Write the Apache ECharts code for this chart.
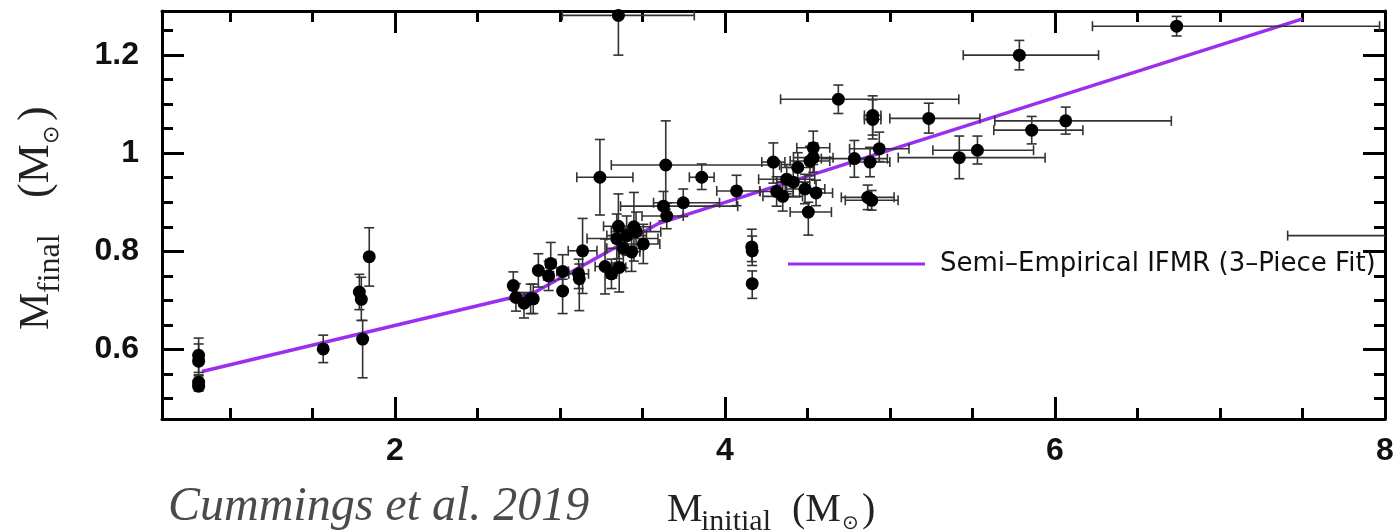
<!DOCTYPE html>
<html><head><meta charset="utf-8">
<script src="https://cdn.jsdelivr.net/npm/echarts@6/dist/echarts.min.js"></script>
<style>html,body{margin:0;padding:0;background:#fff}#c{width:1393px;height:531px}</style>
</head><body><div id="c"></div>
<script>
// Axis range and tick labels
const X_MIN = 0.588, X_MAX = 8, Y_MIN = 0.458, Y_MAX = 1.29;
const X_MAJOR = [2, 4, 6, 8];
const X_MINOR = [1, 1.5, 2.5, 3, 3.5, 4.5, 5, 5.5, 6.5, 7, 7.5];
const Y_MAJOR = [0.6, 0.8, 1, 1.2];
const Y_MINOR = [0.5, 0.55, 0.65, 0.7, 0.75, 0.85, 0.9, 0.95, 1.05, 1.1, 1.15, 1.25];

// White dwarf data: initial mass, final mass, and error bars
const M_INITIAL = [0.81,0.81,0.81,0.81,1.565,1.784,1.796,1.804,1.844,2.717,2.733,2.782,2.822,2.838,2.869,2.931,2.944,3.016,3.016,3.113,3.117,3.137,3.242,3.273,3.312,3.354,3.359,3.344,3.384,3.404,3.434,3.448,3.461,3.505,3.627,3.647,3.641,3.747,3.859,4.070,4.293,4.313,4.687,4.895,4.895,5.235,4.935,4.784,4.879,4.535,4.535,4.515,4.441,4.374,4.414,4.350,4.485,4.552,4.505,4.865,4.889,4.162,4.165,4.165,6.737,5.784,6.065,5.859,5.530,5.420,3.354,8.50];
const M_FINAL = [0.588,0.576,0.533,0.525,0.601,0.717,0.702,0.621,0.789,0.730,0.706,0.694,0.703,0.703,0.761,0.750,0.775,0.759,0.719,0.754,0.744,0.801,0.951,0.769,0.754,0.851,0.767,0.826,0.806,0.832,0.799,0.850,0.840,0.815,0.892,0.872,0.976,0.899,0.951,0.923,0.982,0.922,1.110,1.077,1.069,1.071,1.009,0.989,0.982,1.011,0.991,0.984,0.971,0.947,0.941,0.912,0.927,0.919,0.880,0.910,0.904,0.809,0.801,0.734,1.259,1.200,1.066,1.047,1.006,0.991,1.281,0.832];
const XERR_LO = [0.02,0.02,0.02,0.02,0,0,0,0,0,0,0,0.02,0.02,0.02,0,0.03,0.03,0.035,0,0.06,0,0.087,0.14,0.06,0.03,0.09,0.04,0.18,0.1,0.12,0.05,0.1,0.15,0.1,0.26,0.15,0.33,0.18,0.075,0.12,0.07,0.1,0.35,0.05,0.05,0.236,0.18,0.2,0.12,0.1,0.12,0.12,0.1,0.17,0.1,0.12,0.12,0.1,0.11,0.16,0.16,0,0,0,0.51,0.34,0.43,0.23,0.27,0.37,0.34,1.09];
const XERR_HI = [0.02,0.02,0.02,0.02,0,0,0,0,0,0,0,0.02,0.02,0.02,0,0.03,0.03,0.035,0,0.06,0,0.087,0.2,0.06,0.03,0.09,0.04,0.25,0.1,0.12,0.05,0.1,0.15,0.1,0.45,0.1,0.69,0.22,0.075,0.14,0.07,0.1,0.73,0.05,0.05,0.31,0.18,0.2,0.12,0.1,0.12,0.12,0.1,0.17,0.1,0.12,0.12,0.1,0.14,0.16,0.16,0,0,0,1.23,0.48,0.64,0.31,0.34,0.52,0.46,0.5];
const YERR_LO = [0.035,0.03,0.012,0.01,0.028,0.036,0.043,0.079,0.06,0.028,0.028,0.03,0.03,0.03,0.034,0.03,0.035,0.034,0.046,0.03,0.065,0.087,0.077,0.056,0.03,0.066,0.05,0.05,0.04,0.04,0.04,0.07,0.04,0.04,0.03,0.026,0.09,0.028,0.025,0.03,0.043,0.03,0.029,0.04,0.04,0.03,0.026,0.038,0.03,0.034,0.03,0.03,0.03,0.03,0.03,0.03,0.03,0.026,0.047,0.025,0.02,0.03,0.03,0.03,0.02,0.03,0.027,0.028,0.028,0.043,0.081,0];
const YERR_HI = [0.035,0.035,0.015,0.01,0.028,0.036,0.045,0.038,0.059,0.028,0.028,0.022,0.03,0.03,0.034,0.03,0.043,0.034,0.024,0.03,0.03,0.066,0.077,0.056,0.03,0.066,0.05,0.05,0.04,0.04,0.04,0.07,0.04,0.04,0.03,0.026,0.09,0.028,0.027,0.032,0.039,0.03,0.029,0.04,0.04,0.031,0.034,0.037,0.03,0.034,0.03,0.03,0.03,0.03,0.03,0.03,0.03,0.026,0.02,0.025,0.02,0.036,0.03,0.026,0.02,0.03,0.028,0.028,0.029,0.044,0.08,0];

// Semi-empirical IFMR, 3-piece fit (break points)
const FIT_NAME = 'Semi\u2013Empirical IFMR (3\u2013Piece Fit)';
const FIT_X = [0.83, 2.85, 3.60, 7.50];
const FIT_Y = [0.555, 0.717, 0.857, 1.274];

const rows = M_INITIAL.map((x, i) => [x, M_FINAL[i], XERR_LO[i], XERR_HI[i], YERR_LO[i], YERR_HI[i]]);
const fit = FIT_X.map((x, i) => [x, FIT_Y[i]]);

const ERR_COLOR = '#333';
const FIT_COLOR = '#9b2ff0';
const serif = '"Liberation Serif", "DejaVu Serif", serif';
const labelFont = { color: '#111', fontSize: 32, fontWeight: 'bold', fontFamily: '"Liberation Sans", Arial, sans-serif' };

function axisX(pos, vals, len, withLine, labels) {
  return {
    type: 'value', position: pos, min: X_MIN, max: X_MAX,
    axisLine: { show: withLine, onZero: false, lineStyle: { color: '#000', width: 3 } },
    axisTick: { show: true, inside: true, length: len, customValues: vals, lineStyle: { color: '#000', width: 3 } },
    axisLabel: labels ? Object.assign({ show: true, customValues: vals, margin: 16 }, labelFont) : { show: false },
    splitLine: { show: false }
  };
}
function axisY(pos, vals, len, withLine, labels) {
  return {
    type: 'value', position: pos, min: Y_MIN, max: Y_MAX,
    axisLine: { show: withLine, onZero: false, lineStyle: { color: '#000', width: 3 } },
    axisTick: { show: true, inside: true, length: len, customValues: vals, lineStyle: { color: '#000', width: 3 } },
    axisLabel: labels ? Object.assign({ show: true, customValues: vals, margin: 23,
      formatter: v => (Math.abs(v - 1) < 1e-9 ? '1' : v.toFixed(1)) }, labelFont) : { show: false },
    splitLine: { show: false }
  };
}

const chart = echarts.init(document.getElementById('c'), null, { renderer: 'canvas' });
chart.setOption({
  animation: false,
  backgroundColor: '#fff',
  grid: { left: 162, right: 8, top: 11, bottom: 112, containLabel: false, outerBoundsMode: 'none' },
  xAxis: [
    axisX('bottom', X_MAJOR, 22, true, true),
    axisX('bottom', X_MINOR, 11, false, false),
    axisX('top', X_MAJOR, 22, true, false),
    axisX('top', X_MINOR, 11, false, false)
  ],
  yAxis: [
    axisY('left', Y_MAJOR, 22, true, true),
    axisY('left', Y_MINOR, 11, false, false),
    axisY('right', Y_MAJOR, 22, true, false),
    axisY('right', Y_MINOR, 11, false, false)
  ],
  legend: {
    left: 783, top: 246, selectedMode: false, icon: 'rect', itemWidth: 137, itemHeight: 3,
    data: [FIT_NAME],
    formatter: n => '{t|' + n + '}',
    textStyle: { color: '#111', rich: { t: { fontFamily: '"DejaVu Sans", sans-serif', fontSize: 26, color: '#111', padding: [0, 0, 0, 10] } } }
  },
  series: [
    {
      name: FIT_NAME, type: 'line', data: fit, symbol: 'none', z: 2,
      lineStyle: { color: FIT_COLOR, width: 3.5 }, itemStyle: { color: FIT_COLOR }
    },
    {
      name: 'errors', type: 'custom', data: rows, clip: true, z: 3,
      encode: { x: 0, y: 1 },
      renderItem: (params, api) => {
        const x = api.value(0), y = api.value(1);
        const xl = api.value(2), xh = api.value(3), yl = api.value(4), yh = api.value(5);
        const c = api.coord([x, y]);
        const st = { stroke: ERR_COLOR, lineWidth: 1.6, fill: null };
        const cap = 5;
        const ch = [];
        if (yl > 0 || yh > 0) {
          const t = api.coord([x, y + yh])[1], b = api.coord([x, y - yl])[1];
          ch.push({ type: 'line', shape: { x1: c[0], y1: t, x2: c[0], y2: b }, style: st });
          ch.push({ type: 'line', shape: { x1: c[0] - cap, y1: t, x2: c[0] + cap, y2: t }, style: st });
          ch.push({ type: 'line', shape: { x1: c[0] - cap, y1: b, x2: c[0] + cap, y2: b }, style: st });
        }
        if (xl > 0 || xh > 0) {
          const l = api.coord([x - xl, y])[0], r = api.coord([x + xh, y])[0];
          ch.push({ type: 'line', shape: { x1: l, y1: c[1], x2: r, y2: c[1] }, style: st });
          ch.push({ type: 'line', shape: { x1: l, y1: c[1] - cap, x2: l, y2: c[1] + cap }, style: st });
          ch.push({ type: 'line', shape: { x1: r, y1: c[1] - cap, x2: r, y2: c[1] + cap }, style: st });
        }
        return { type: 'group', children: ch };
      }
    },
    {
      name: 'white dwarfs', type: 'scatter', data: rows.map(r => [r[0], r[1]]), clip: true, z: 4,
      symbol: 'circle', symbolSize: 13, itemStyle: { color: '#000', opacity: 1 }
    }
  ],
  graphic: [
    { type: 'text', x: 168, y: 531, style: { text: 'Cummings et al. 2019', font: 'italic 48px ' + serif, fill: '#4a4a4a', textVerticalAlign: 'bottom', verticalAlign: 'bottom' } },
    { type: 'text', x: 667, y: 530, style: { text: 'M', font: '40px ' + serif, fill: '#222', textVerticalAlign: 'bottom', verticalAlign: 'bottom' } },
    { type: 'text', x: 701, y: 537, style: { text: 'initial', font: '30px ' + serif, fill: '#222', textVerticalAlign: 'bottom', verticalAlign: 'bottom' } },
    { type: 'text', x: 792, y: 530, style: { text: '(M', font: '40px ' + serif, fill: '#222', textVerticalAlign: 'bottom', verticalAlign: 'bottom' } },
    { type: 'text', x: 842, y: 534, style: { text: '\u2299', font: '20px "DejaVu Sans", sans-serif', fill: '#222', textVerticalAlign: 'bottom', verticalAlign: 'bottom' } },
    { type: 'text', x: 862, y: 530, style: { text: ')', font: '40px ' + serif, fill: '#222', textVerticalAlign: 'bottom', verticalAlign: 'bottom' } },
    {
      type: 'group', x: 58, y: 330, rotation: Math.PI / 2,
      children: [
        { type: 'text', x: 0, y: 0, style: { text: 'M', font: '42px ' + serif, fill: '#222', textVerticalAlign: 'bottom', verticalAlign: 'bottom' } },
        { type: 'text', x: 37, y: 9, style: { text: 'final', font: '32px ' + serif, fill: '#222', textVerticalAlign: 'bottom', verticalAlign: 'bottom' } },
        { type: 'text', x: 132, y: 0, style: { text: '(M', font: '44px ' + serif, fill: '#222', textVerticalAlign: 'bottom', verticalAlign: 'bottom' } },
        { type: 'text', x: 186, y: 5, style: { text: '\u2299', font: '22px "DejaVu Sans", sans-serif', fill: '#222', textVerticalAlign: 'bottom', verticalAlign: 'bottom' } },
        { type: 'text', x: 209, y: 0, style: { text: ')', font: '44px ' + serif, fill: '#222', textVerticalAlign: 'bottom', verticalAlign: 'bottom' } }
      ]
    }
  ]
});
</script></body></html>
